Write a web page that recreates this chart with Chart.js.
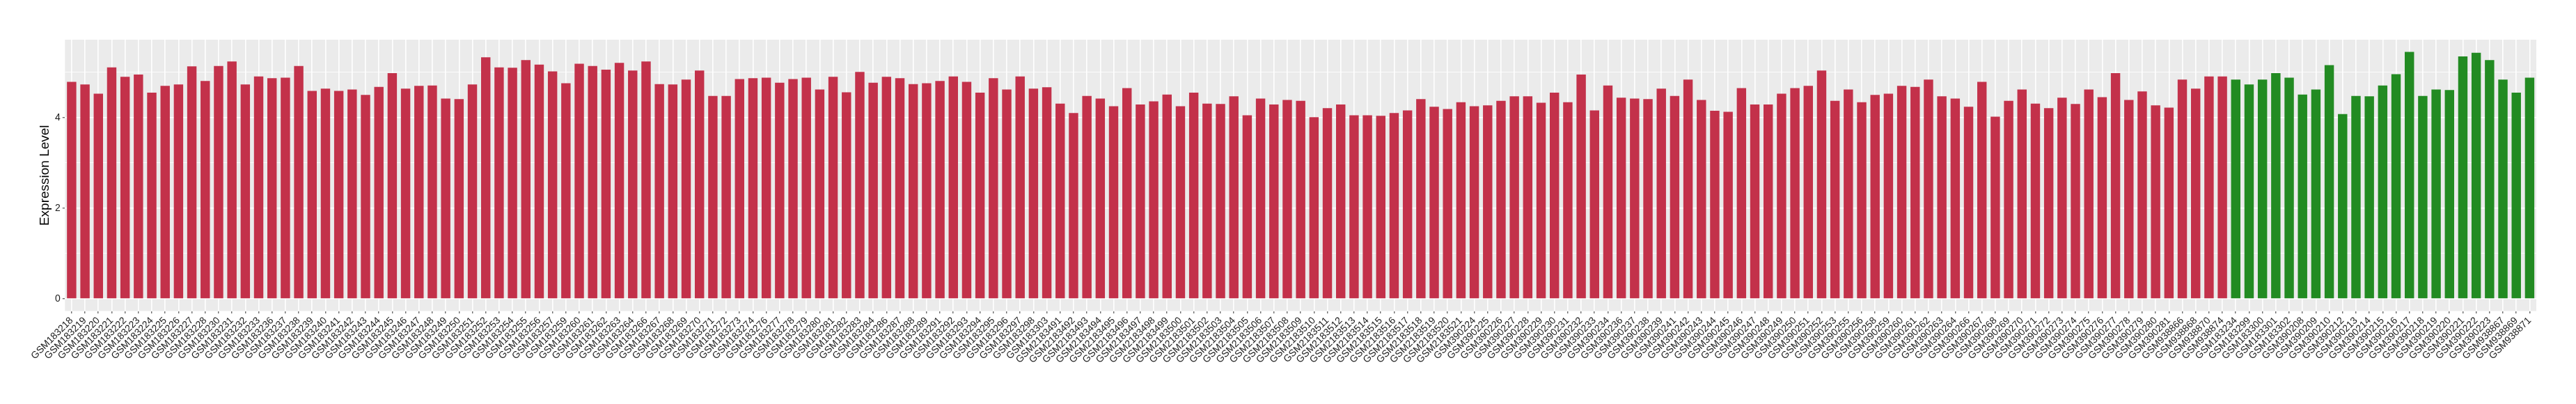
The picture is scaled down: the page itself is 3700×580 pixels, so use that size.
<!DOCTYPE html>
<html>
<head>
<meta charset="utf-8">
<script src="https://cdn.jsdelivr.net/npm/chart.js@4.4.1/dist/chart.umd.min.js"></script>
<style>
  body { margin: 0; background: #fff; }
</style>
</head>
<body>
<canvas id="chartdiv" width="3700" height="580"></canvas>
<script>
// samples drawn in red (first group)
const redIds = [
  'GSM183218','GSM183219','GSM183220','GSM183221','GSM183222','GSM183223','GSM183224','GSM183225',
  'GSM183226','GSM183227','GSM183228','GSM183230','GSM183231','GSM183232','GSM183233','GSM183236',
  'GSM183237','GSM183238','GSM183239','GSM183240','GSM183241','GSM183242','GSM183243','GSM183244',
  'GSM183245','GSM183246','GSM183247','GSM183248','GSM183249','GSM183250','GSM183251','GSM183252',
  'GSM183253','GSM183254','GSM183255','GSM183256','GSM183257','GSM183259','GSM183260','GSM183261',
  'GSM183262','GSM183263','GSM183264','GSM183266','GSM183267','GSM183268','GSM183269','GSM183270',
  'GSM183271','GSM183272','GSM183273','GSM183274','GSM183276','GSM183277','GSM183278','GSM183279',
  'GSM183280','GSM183281','GSM183282','GSM183283','GSM183284','GSM183286','GSM183287','GSM183288',
  'GSM183289','GSM183291','GSM183292','GSM183293','GSM183294','GSM183295','GSM183296','GSM183297',
  'GSM183298','GSM183303',
  'GSM2183491','GSM2183492','GSM2183493','GSM2183494','GSM2183495','GSM2183496','GSM2183497','GSM2183498',
  'GSM2183499','GSM2183500','GSM2183501','GSM2183502','GSM2183503','GSM2183504','GSM2183505','GSM2183506',
  'GSM2183507','GSM2183508','GSM2183509','GSM2183510','GSM2183511','GSM2183512','GSM2183513','GSM2183514',
  'GSM2183515','GSM2183516','GSM2183517','GSM2183518','GSM2183519','GSM2183520','GSM2183521',
  'GSM390224','GSM390225','GSM390226','GSM390227','GSM390228','GSM390229','GSM390230','GSM390231',
  'GSM390232','GSM390233','GSM390234','GSM390236','GSM390237','GSM390238','GSM390239','GSM390241',
  'GSM390242','GSM390243','GSM390244','GSM390245','GSM390246','GSM390247','GSM390248','GSM390249',
  'GSM390250','GSM390251','GSM390252','GSM390253','GSM390255','GSM390256','GSM390258','GSM390259',
  'GSM390260','GSM390261','GSM390262','GSM390263','GSM390264','GSM390266','GSM390267','GSM390268',
  'GSM390269','GSM390270','GSM390271','GSM390272','GSM390273','GSM390274','GSM390275','GSM390276',
  'GSM390277','GSM390278','GSM390279','GSM390280','GSM390281',
  'GSM938866','GSM938868','GSM938870','GSM938874'
]
const redValues = [
  4.79,4.73,4.53,5.11,4.90,4.95,4.55,4.70,4.73,5.13,4.81,5.14,5.24,4.73,4.91,4.87,
  4.88,5.14,4.59,4.64,4.59,4.62,4.50,4.68,
  4.98,4.64,4.70,4.71,4.42,4.41,4.73,5.33,5.11,5.10,5.27,5.17,5.02,4.76,5.19,5.14,
  5.06,5.21,5.04,5.24,4.74,4.73,4.84,5.04,4.48,4.48,
  4.85,4.87,4.88,4.77,4.85,4.88,4.62,4.90,4.56,5.01,4.77,4.90,4.87,4.74,4.76,4.81,
  4.91,4.79,4.55,4.87,4.62,4.91,4.64,4.67,
  4.31,4.10,4.48,4.42,4.25,4.65,4.29,4.36,4.51,4.25,4.55,4.31,4.30,4.47,4.05,4.42,
  4.29,4.39,4.37,4.01,4.21,4.29,4.05,4.05,4.04,4.10,4.16,4.41,4.24,4.19,4.34,
  4.25,4.27,4.37,4.47,4.47,4.33,4.55,4.34,4.95,4.16,
  4.71,4.44,4.42,4.41,4.64,4.48,4.84,4.39,4.15,4.13,
  4.65,4.29,4.29,4.53,4.65,4.70,5.04,4.37,4.62,4.34,
  4.50,4.53,4.70,4.68,4.84,4.47,4.42,4.24,4.79,4.02,
  4.37,4.62,4.31,4.21,4.44,4.30,4.62,4.45,4.98,4.39,
  4.58,4.27,4.22,
  4.84,4.64,4.91,4.91
]

// samples drawn in green (second group)
const greenIds = [
  'GSM183234','GSM183299','GSM183300','GSM183301','GSM183302',
  'GSM390208','GSM390209','GSM390210','GSM390212','GSM390213','GSM390214','GSM390215','GSM390216',
  'GSM390217','GSM390218','GSM390219','GSM390220','GSM390221','GSM390222','GSM390223',
  'GSM938867','GSM938869','GSM938871'
]
const greenValues = [
  4.84,4.73,4.84,4.98,4.88,
  4.51,4.62,5.16,4.08,4.48,4.47,4.71,4.96,
  5.45,4.48,4.62,4.61,5.35,5.43,5.27,
  4.84,4.55,4.88
]

const yTicks = [0, 1, 2, 3, 4, 5]

const labels = redIds.concat(greenIds)
const redData = redValues.concat(greenIds.map(() => null))
const greenData = redIds.map(() => null).concat(greenValues)

const panelBg = {
    id: 'panelBg',
    beforeDraw(chart) {
        const a = chart.chartArea
        const ctx = chart.ctx
        ctx.save()
        ctx.fillStyle = '#EBEBEB'
        ctx.fillRect(a.left, a.top, a.right - a.left, a.bottom - a.top)
        ctx.restore()
    }
}

const textFont = { family: "'Liberation Sans', Arial, sans-serif", size: 14 }

new Chart(document.getElementById('chartdiv'), {
    type: 'bar',
    data: {
        labels: labels,
        datasets: [
            { label: 'red', data: redData, backgroundColor: '#C3314A', barPercentage: 0.7, categoryPercentage: 1.0 },
            { label: 'green', data: greenData, backgroundColor: '#228B22', barPercentage: 0.7, categoryPercentage: 1.0 }
        ]
    },
    options: {
        responsive: false,
        animation: false,
        layout: { padding: { left: 0, top: 57, right: 57, bottom: 0 } },
        plugins: { legend: { display: false }, tooltip: { enabled: false } },
        scales: {
            x: {
                stacked: true,
                offset: true,
                border: { display: false },
                grid: {
                    offset: false,
                    color: '#FFFFFF',
                    lineWidth: 1.6,
                    drawTicks: true,
                    tickLength: 3.5,
                    tickColor: '#333333',
                    tickWidth: 1
                },
                ticks: {
                    autoSkip: false,
                    maxRotation: 45,
                    minRotation: 45,
                    padding: 2,
                    color: '#1A1A1A',
                    font: textFont
                },
                afterFit(scale) { scale.height = 133.5 }
            },
            y: {
                stacked: true,
                min: -0.27,
                max: 5.72,
                border: { display: false },
                afterBuildTicks(scale) { scale.ticks = yTicks.map(v => ({ value: v })) },
                grid: {
                    color: '#FFFFFF',
                    lineWidth: ctx => (ctx.tick && ctx.tick.value % 2 === 0) ? 1.6 : 0.8,
                    drawTicks: true,
                    tickLength: 3.5,
                    tickColor: ctx => (ctx.tick && ctx.tick.value % 2 === 0) ? '#333333' : 'rgba(0,0,0,0)',
                    tickWidth: 1
                },
                ticks: {
                    padding: 3,
                    color: '#1A1A1A',
                    font: textFont,
                    callback: v => (v % 2 === 0 ? String(v) : '')
                },
                title: {
                    display: true,
                    text: 'Expression Level',
                    color: '#000000',
                    font: { family: "'Liberation Sans', Arial, sans-serif", size: 19 },
                    padding: { top: 53.6, bottom: 0 }
                },
                afterFit(scale) { scale.width = 93.3 }
            }
        }
    },
    plugins: [panelBg]
});
</script>
</body>
</html>
